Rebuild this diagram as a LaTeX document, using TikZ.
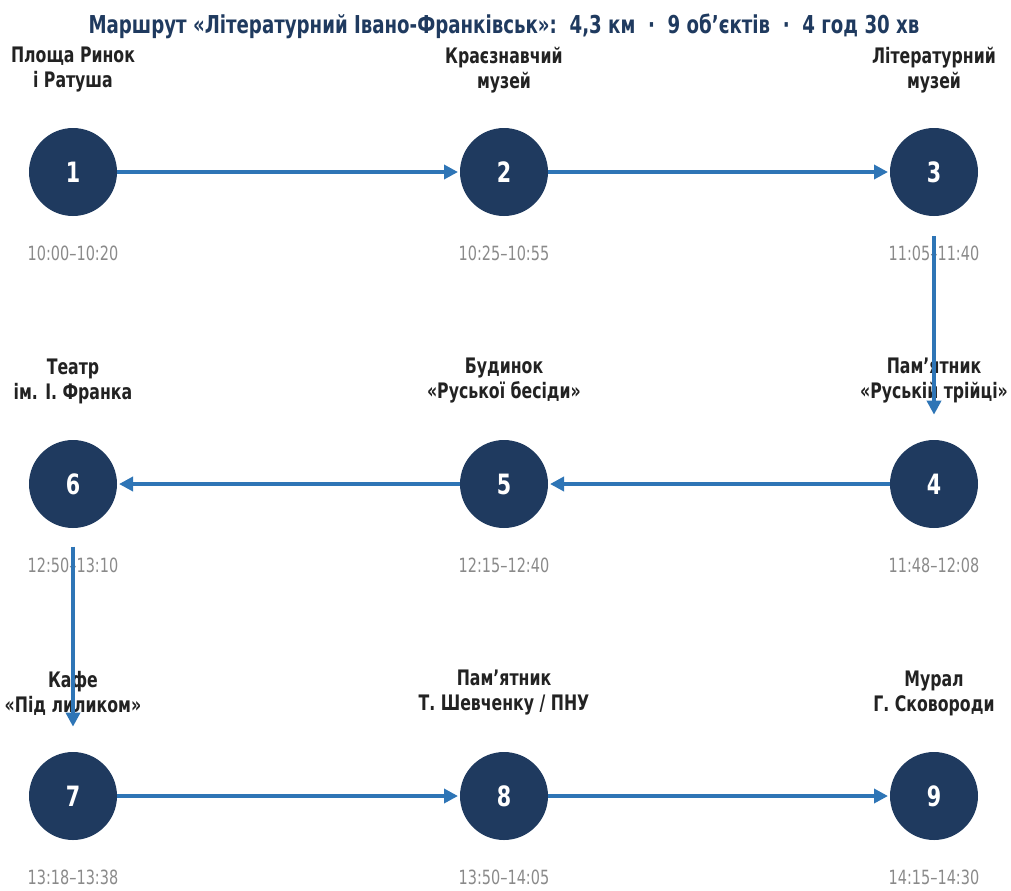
\documentclass[tikz,border=0pt]{standalone}
\usepackage{fontspec}
\setmainfont{DejaVu Sans Condensed}[FakeStretch=0.82]
\usepackage{xcolor}
\usetikzlibrary{arrows.meta}

\definecolor{stopnavy}{HTML}{1F3A5F}
\definecolor{routeblue}{HTML}{2E75B6}
\definecolor{timegray}{HTML}{8A8A8A}
\definecolor{labelink}{HTML}{222222}

\tikzset{
  stopdot/.style={circle, fill=stopnavy, minimum size=66pt, inner sep=0pt, outer sep=0pt,
    text=white, font=\bfseries\fontsize{21}{24}\selectfont},
  stoplabel/.style={align=center, text=labelink, font=\bfseries\fontsize{16}{18.75}\selectfont},
  stoptime/.style={text=timegray, inner sep=0.5pt, font=\fontsize{14.7}{17}\selectfont},
  leg/.style={draw=routeblue, line width=3pt, -{Triangle[length=10.5pt,width=10.5pt]}}
}

\begin{document}
\begin{tikzpicture}[x=0.75pt,y=-0.75pt]
  \useasboundingbox (0,0) rectangle (1011,890);
  % title
  \node[text=stopnavy, font=\bfseries\fontsize{18.5}{22}\selectfont] (title) at (504,26)
    {Маршрут «Літературний Івано-Франківськ»:~~4,3 км~~·~~9 об’єктів~~·~~4 год 30 хв};
  % stops and times
  \foreach \i/\x/\y/\tm in {1/73/172/10:00–10:20, 2/504/172/10:25–10:55, 3/934/172/11:05–11:40,
                            4/934/484/11:48–12:08, 5/504/484/12:15–12:40, 6/73/484/12:50–13:10,
                            7/73/796/13:18–13:38, 8/504/796/13:50–14:05, 9/934/796/14:15–14:30} {
    \node[stopdot] (s\i) at (\x,\y) {\i};
    \node[stoptime] (t\i) at (\x,\y+81) {\tm};
  }
  % names
  \node[stoplabel] (l1) at (73,70) {Площа Ринок\\і Ратуша};
  \node[stoplabel] (l2) at (504,70) {Краєзнавчий\\музей};
  \node[stoplabel] (l3) at (934,70) {Літературний\\музей};
  \node[stoplabel] (l4) at (934,381) {Пам’ятник\\«Руській трійці»};
  \node[stoplabel] (l5) at (504,381) {Будинок\\«Руської бесіди»};
  \node[stoplabel] (l6) at (73,381) {Театр\\ім. І. Франка};
  \node[stoplabel] (l7) at (73,693) {Кафе\\«Під лиликом»};
  \node[stoplabel] (l8) at (504,693) {Пам’ятник\\Т. Шевченку / ПНУ};
  \node[stoplabel] (l9) at (934,693) {Мурал\\Г. Сковороди};
  % route
  \foreach \a/\b in {1/2,2/3,4/5,5/6,7/8,8/9}
    \draw[leg, shorten >=1.5pt] (s\a) -- (s\b);
  \draw[leg, shorten <=15pt, shorten >=19pt] (s3) -- (s4);
  \draw[leg, shorten <=14pt, shorten >=19pt] (s6) -- (s7);
\end{tikzpicture}
\end{document}
